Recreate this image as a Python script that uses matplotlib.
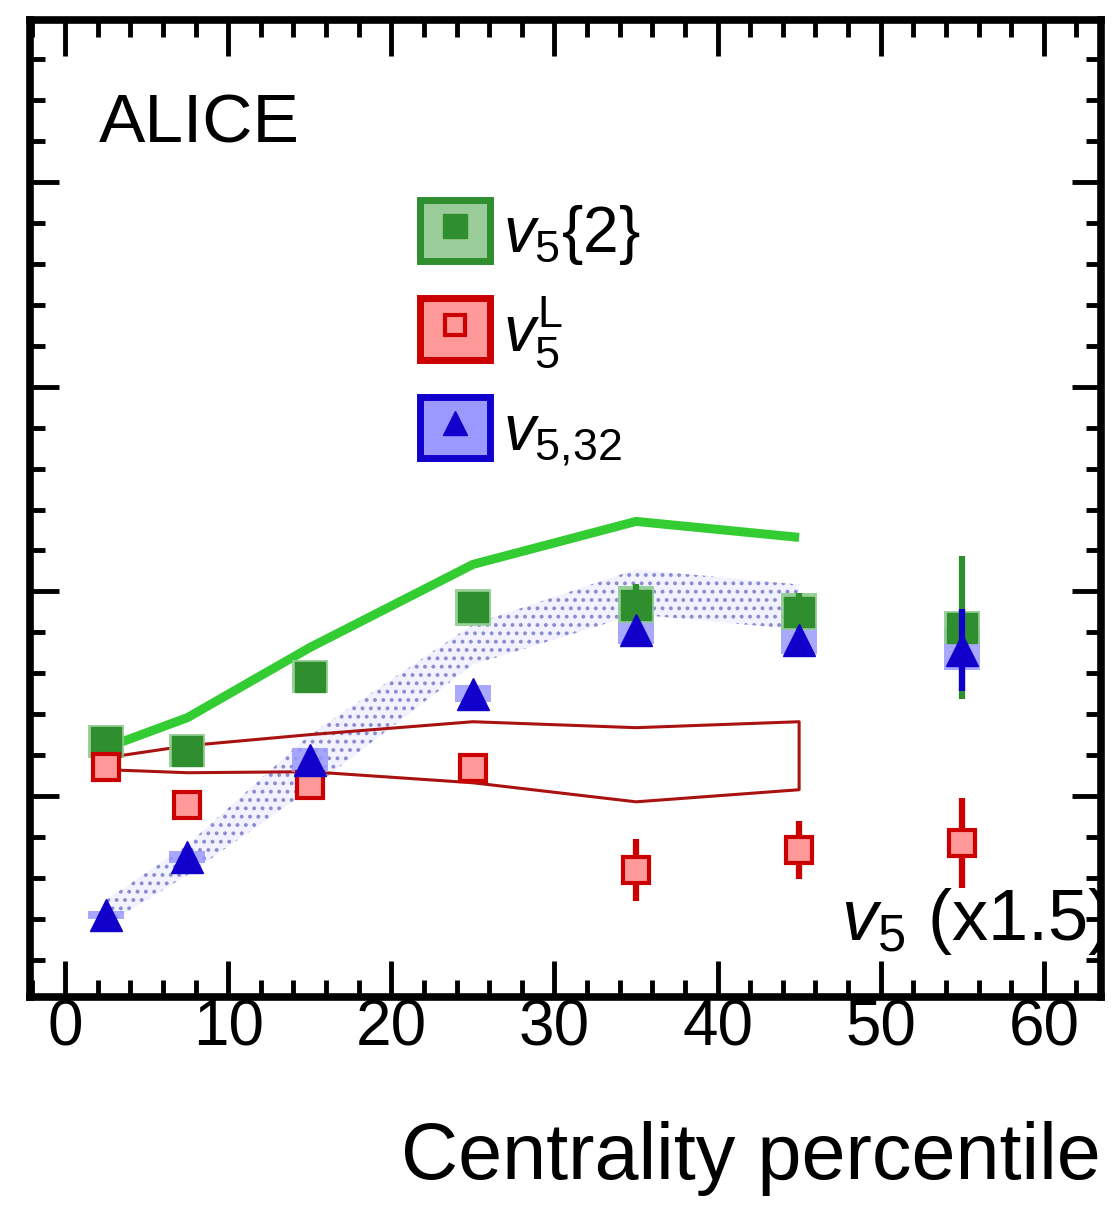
import matplotlib
matplotlib.use('Agg')
import matplotlib.pyplot as plt
import numpy as np
from matplotlib.patches import Rectangle
from matplotlib.lines import Line2D
from matplotlib.legend_handler import HandlerTuple
from matplotlib.ticker import MultipleLocator

plt.rcParams['font.family'] = ['Liberation Sans', 'DejaVu Sans']
plt.rcParams['mathtext.fontset'] = 'custom'
plt.rcParams['mathtext.rm'] = 'Liberation Sans'
plt.rcParams['mathtext.it'] = 'Liberation Sans:italic'
plt.rcParams['hatch.linewidth'] = 1.6

# centrality bin centres
cent = [2.5, 7.5, 15, 25, 35, 45, 55]

# v5{2} (green squares)
v52 = [0.01267, 0.01222, 0.01584, 0.01922, 0.01936, 0.01902, 0.01824]
v52_err = [0.0002, 0.0002, 0.0002, 0.0003, 0.0010, 0.0009, 0.0035]
v52_sys = [0.0008, 0.0008, 0.0008, 0.0009, 0.0009, 0.0009, 0.0008]

# v5^L (red open squares)
v5L = [0.01144, 0.00958, 0.01056, 0.01139, 0.00641, 0.00738, 0.00772]
v5L_err = [0.0002, 0.0002, 0.0002, 0.0007, 0.0015, 0.0014, 0.0022]

# v5,32 (blue triangles)
v532 = [0.00421, 0.00704, 0.01178, 0.01501, 0.01814, 0.01765, 0.01716]
v532_err = [0.0002, 0.0002, 0.0002, 0.0002, 0.0003, 0.0003, 0.0020]
v532_sys = [0.0002, 0.0003, 0.0006, 0.0004, 0.0007, 0.0007, 0.0010]

# model curves
mod_x = [2.5, 7.5, 15, 25, 35, 45]
mod_v52 = [0.01237, 0.01384, 0.01726, 0.02132, 0.02342, 0.02264]
mod_v5L_hi = [0.01188, 0.01247, 0.01301, 0.01364, 0.01335, 0.01364]
mod_v5L_lo = [0.01130, 0.01115, 0.01120, 0.01066, 0.00973, 0.01032]
mod_v532_hi = [0.00494, 0.00763, 0.01301, 0.01839, 0.02108, 0.02034]
mod_v532_lo = [0.00372, 0.00616, 0.01032, 0.01643, 0.01888, 0.01814]

green = '#2f8f2f'
lgreen = '#8fcc8f'
red = '#cc0000'
pink = '#ff9999'
blue = '#1100cc'
lblue = '#9999ff'

fig = plt.figure(figsize=(11.12, 12.05), dpi=100)
ax = fig.add_axes([0.027, 0.1726, 0.963, 0.8108])

# blue model band (dotted)
ax.fill_between(mod_x, mod_v532_lo, mod_v532_hi, facecolor='#f2f2ff',
                edgecolor='#8c8cd0', hatch='..', linewidth=0, zorder=1)

# red model band (outline)
band_x = mod_x + mod_x[::-1] + [mod_x[0]]
band_y = mod_v5L_hi + mod_v5L_lo[::-1] + [mod_v5L_hi[0]]
ax.plot(band_x, band_y, color='#aa1111', lw=2.2, zorder=2)

# green model line
ax.plot(mod_x, mod_v52, color='#33cc33', lw=6.5, zorder=2, solid_capstyle='butt')

# systematic boxes
ax.bar(cent, np.multiply(v532_sys, 2), bottom=np.subtract(v532, v532_sys), width=2.2,
       color=lblue, alpha=0.85, linewidth=0, zorder=3)
ax.bar(cent, np.multiply(v52_sys, 2), bottom=np.subtract(v52, v52_sys), width=2.2,
       color=lgreen, alpha=0.9, linewidth=0, zorder=3)

# data points
ax.errorbar(cent, v52, yerr=v52_err, fmt='s', ms=21, color=green, mec=green,
            elinewidth=4.5, capsize=0, zorder=4)
ax.errorbar(cent, v5L, yerr=v5L_err, fmt='s', ms=19, mfc=pink, mec=red, mew=3,
            ecolor=red, elinewidth=4.5, capsize=0, zorder=5)
ax.errorbar(cent, v532, yerr=v532_err, fmt='^', ms=23, color=blue, mec=blue,
            elinewidth=4.5, capsize=0, zorder=6)

ax.set_xlim(-2.15, 63.5)
ax.set_ylim(0.0002, 0.0479)

ax.xaxis.set_major_locator(MultipleLocator(10))
ax.xaxis.set_minor_locator(MultipleLocator(2))
ax.yaxis.set_major_locator(MultipleLocator(0.01))
ax.yaxis.set_minor_locator(MultipleLocator(0.002))
ax.tick_params(axis='both', which='both', direction='in', top=True, right=True, width=3.5)
ax.tick_params(axis='x', which='major', length=26, labelsize=46, pad=1)
ax.tick_params(axis='x', which='minor', length=12)
ax.tick_params(axis='y', which='major', length=21, labelleft=False)
ax.tick_params(axis='y', which='minor', length=11)
for s in ax.spines.values():
    s.set_linewidth(5.5)

ax.set_xlabel('Centrality percentile', fontsize=57, loc='right', labelpad=45)

ax.text(0.064, 0.893, 'ALICE', transform=ax.transAxes, fontsize=50, va='center', ha='left')
ax.text(1.008, 0.077, r'$v_5$ (x1.5)', transform=ax.transAxes, fontsize=52,
        va='center', ha='right', zorder=1, clip_on=True)

# legend
h1 = (Rectangle((0, 0), 1, 1, facecolor='#99cc99', edgecolor=green, lw=5),
      Line2D([], [], marker='s', ls='', ms=17, color=green))
h2 = (Rectangle((0, 0), 1, 1, facecolor=pink, edgecolor=red, lw=5),
      Line2D([], [], marker='s', ls='', ms=14, mfc=pink, mec=red, mew=3))
h3 = (Rectangle((0, 0), 1, 1, facecolor=lblue, edgecolor=blue, lw=5),
      Line2D([], [], marker='^', ls='', ms=17, color=blue))
ax.legend([h1, h2, h3], [r'$v_5\{2\}$', r'$v_5^{\mathrm{L}}$', r'$v_{5{,}32}$'],
          handler_map={tuple: HandlerTuple(ndivide=1, pad=0)},
          loc='upper left', bbox_to_anchor=(0.340, 0.842), frameon=False,
          fontsize=46, handlelength=1.1, handleheight=1.1, handletextpad=0.2,
          labelspacing=0.42, borderaxespad=0)

fig.savefig('out.png', dpi=100)
